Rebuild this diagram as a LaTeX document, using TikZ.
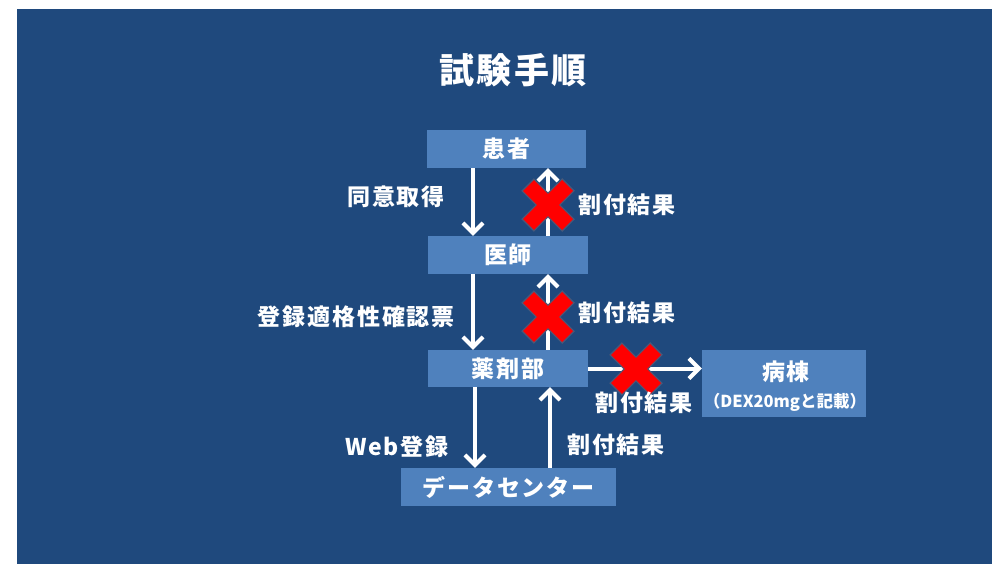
\documentclass[tikz,border=0pt]{standalone}
\usepackage{fontspec}
\usetikzlibrary{arrows.meta}
\setmainfont{Noto Sans CJK JP}
\newfontfamily\jpls{Noto Sans CJK JP}[LetterSpace=8]
\newfontfamily\jptitle{Noto Sans CJK JP}[LetterSpace=6]
\definecolor{slidebg}{HTML}{1F497D}
\definecolor{boxblue}{HTML}{4F81BD}
\definecolor{xedgec}{HTML}{4A5878}
\newcommand\lblfont{\jpls\bfseries\fontsize{23}{27}\selectfont}
\newcommand\smallfont{\bfseries\fontsize{16.5}{19}\selectfont}
\tikzset{
  stagebox/.style={fill=boxblue, text=white, font=\lblfont, inner sep=0pt, minimum height=38pt, align=center},
  lbl/.style={text=white, font=\lblfont, inner sep=0pt},
  arr/.style={draw=white, line width=4pt, -{Straight Barb[length=10pt,width=20pt]}},
  xedge/.style={draw=xedgec, line width=18pt},
  xfill/.style={draw=red, line width=15.5pt},
  redx/.pic={
    \draw[xedge] (-20.5,-20.5) -- (20.5,20.5) (-20.5,20.5) -- (20.5,-20.5);
    \draw[xfill] (-19.5,-19.5) -- (19.5,19.5) (-19.5,19.5) -- (19.5,-19.5);
  }
}
\begin{document}
\begin{tikzpicture}[x=1pt,y=-1pt]
\fill[white] (0,0) rectangle (992,564);
\fill[slidebg] (17,9) rectangle (992,564);
\useasboundingbox (0,0) rectangle (992,564);

\node[text=white, font=\jptitle\bfseries\fontsize{35}{40}\selectfont, inner sep=0pt] (title) at (513,70) {試験手順};

\node[stagebox, minimum width=159pt] (pt) at (506.5,149) {患者};
\node[stagebox, minimum width=160pt] (dr) at (508,255) {医師};
\node[stagebox, minimum width=160pt, minimum height=37pt] (ph) at (508,368.5) {薬剤部};
\node[stagebox, minimum width=215pt] (dc) at (508.5,487) {データセンター};
\node[stagebox, minimum width=164pt, minimum height=67pt] (wd) at (784,383.5) {};
\node[text=white, font=\lblfont, inner sep=0pt] (wdt) at (786,372) {病棟};
\node[text=white, font=\smallfont, inner sep=0pt] (wds) at (785,402) {（DEX20mgと記載）};

\coordinate (xl) at (473,0);
\coordinate (xr) at (548,0);
\coordinate (xl2) at (475,0);
\coordinate (xr2) at (550,0);

\draw[arr] (pt.south -| xl) -- (dr.north -| xl);
\draw[arr] (dr.north -| xr) -- (pt.south -| xr);
\draw[arr] (dr.south -| xl) -- (ph.north -| xl);
\draw[arr] (ph.north -| xr) -- (dr.south -| xr);
\draw[arr] (ph.south -| xl2) -- (dc.north -| xl2);
\draw[arr] (dc.north -| xr2) -- (ph.south -| xr2);
\draw[arr] (ph.east) -- (wd.west |- ph.east);

\pic at (548,205) {redx};
\pic at (548,317) {redx};
\pic at (636,369) {redx};

\node[lbl, anchor=east] (l1) at (445,197) {同意取得};
\node[lbl, anchor=east] (l2) at (455,317) {登録適格性確認票};
\node[lbl, anchor=east] (l3) at (449,447) {Web登録};
\node[lbl, anchor=west] (r1) at (578,205) {割付結果};
\node[lbl, anchor=west] (r2) at (578,313) {割付結果};
\node[lbl] (r3) at (644,403) {割付結果};
\node[lbl, anchor=west] (r4) at (567,445) {割付結果};
\end{tikzpicture}
\end{document}
